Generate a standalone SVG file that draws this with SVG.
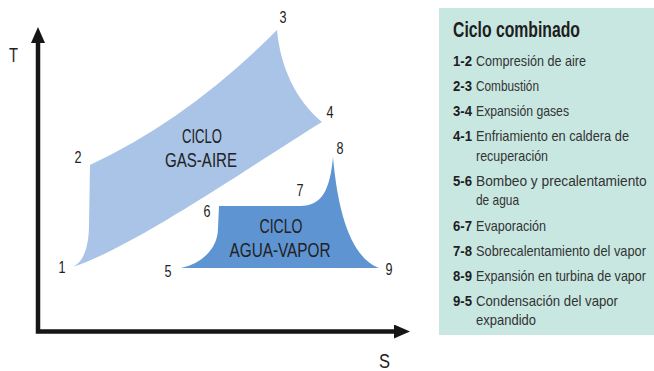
<svg xmlns="http://www.w3.org/2000/svg" width="654" height="371" viewBox="0 0 654 371">
<defs>
<marker id="arr" viewBox="0 0 16 14" refX="0" refY="7" markerWidth="16" markerHeight="14" orient="auto-start-reverse" markerUnits="userSpaceOnUse">
<path d="M0,0 L16,7 L0,14 Z" fill="#161616"/>
</marker>
<style>
.f{font-family:"Liberation Sans",Arial,sans-serif;}
.pt{font-size:16px;fill:#222;text-anchor:middle;}
.cyc{font-size:21px;fill:#222;text-anchor:middle;}
.ttl{font-size:22px;font-weight:bold;fill:#1e1e1e;}
.num{font-size:15px;font-weight:bold;fill:#1e1e1e;}
.dsc{font-size:15px;fill:#333;}
.ax{font-size:21px;fill:#222;}
</style>
</defs>
<rect width="654" height="371" fill="#ffffff"/>

<g id="axes">
<path d="M38,43 L38,331.5 L394,331.5" fill="none" stroke="#161616" stroke-width="4.5" stroke-linejoin="miter" marker-start="url(#arr)" marker-end="url(#arr)"/>
<text class="f ax" x="9" y="62" textLength="9" lengthAdjust="spacingAndGlyphs">T</text>
<text class="f ax" x="379" y="368" textLength="11" lengthAdjust="spacingAndGlyphs">S</text>
</g>

<g id="gas-aire">
<path d="M72,267 C84,263 89,245 89,225 L90,165 Q190,118 277,30 C280,65 295,100 322,122 C260,160 130,250 72,267 Z" fill="#a9c4e6"/>
<text class="f cyc" x="202" y="143" textLength="40" lengthAdjust="spacingAndGlyphs">CICLO</text>
<text class="f cyc" x="201" y="167" textLength="72" lengthAdjust="spacingAndGlyphs">GAS-AIRE</text>
</g>

<g id="agua-vapor">
<path d="M181,268 C200,264 218,250 218,228 L219,206 L300,206 C322,206 330,190 333,157 C338,215 352,258 379,268 Z" fill="#5e94d2"/>
<text class="f cyc" x="281" y="233" textLength="43" lengthAdjust="spacingAndGlyphs">CICLO</text>
<text class="f cyc" x="280" y="257" textLength="101" lengthAdjust="spacingAndGlyphs">AGUA-VAPOR</text>
</g>

<g id="points">
<text class="f pt" x="62" y="273" textLength="7" lengthAdjust="spacingAndGlyphs">1</text>
<text class="f pt" x="78" y="163" textLength="7" lengthAdjust="spacingAndGlyphs">2</text>
<text class="f pt" x="283" y="23" textLength="7" lengthAdjust="spacingAndGlyphs">3</text>
<text class="f pt" x="330" y="118" textLength="7" lengthAdjust="spacingAndGlyphs">4</text>
<text class="f pt" x="168" y="277" textLength="7" lengthAdjust="spacingAndGlyphs">5</text>
<text class="f pt" x="207" y="217" textLength="7" lengthAdjust="spacingAndGlyphs">6</text>
<text class="f pt" x="300" y="196" textLength="7" lengthAdjust="spacingAndGlyphs">7</text>
<text class="f pt" x="340" y="154" textLength="7" lengthAdjust="spacingAndGlyphs">8</text>
<text class="f pt" x="389" y="275" textLength="7" lengthAdjust="spacingAndGlyphs">9</text>
</g>

<g id="legend">
<rect x="439" y="8" width="215" height="327" fill="#c8e7e1"/>
<text class="f ttl" x="453" y="37" textLength="127" lengthAdjust="spacingAndGlyphs">Ciclo combinado</text>
<text class="f num" x="453" y="66" textLength="19" lengthAdjust="spacingAndGlyphs">1-2</text>
<text class="f dsc" x="476" y="66" textLength="110" lengthAdjust="spacingAndGlyphs">Compresión de aire</text>
<text class="f num" x="453" y="91" textLength="19" lengthAdjust="spacingAndGlyphs">2-3</text>
<text class="f dsc" x="476" y="91" textLength="63" lengthAdjust="spacingAndGlyphs">Combustión</text>
<text class="f num" x="453" y="116" textLength="19" lengthAdjust="spacingAndGlyphs">3-4</text>
<text class="f dsc" x="476" y="116" textLength="93" lengthAdjust="spacingAndGlyphs">Expansión gases</text>
<text class="f num" x="453" y="141" textLength="19" lengthAdjust="spacingAndGlyphs">4-1</text>
<text class="f dsc" x="476" y="141" textLength="153" lengthAdjust="spacingAndGlyphs">Enfriamiento en caldera de</text>
<text class="f dsc" x="476" y="161" textLength="72" lengthAdjust="spacingAndGlyphs">recuperación</text>
<text class="f num" x="453" y="186" textLength="19" lengthAdjust="spacingAndGlyphs">5-6</text>
<text class="f dsc" transform="translate(476,186) scale(0.915,1)">Bombeo y precalentamiento</text>
<text class="f dsc" x="476" y="205" textLength="43" lengthAdjust="spacingAndGlyphs">de agua</text>
<text class="f num" x="453" y="231" textLength="19" lengthAdjust="spacingAndGlyphs">6-7</text>
<text class="f dsc" x="476" y="231" textLength="70" lengthAdjust="spacingAndGlyphs">Evaporación</text>
<text class="f num" x="453" y="256" textLength="19" lengthAdjust="spacingAndGlyphs">7-8</text>
<text class="f dsc" transform="translate(476,256) scale(0.853,1)">Sobrecalentamiento del vapor</text>
<text class="f num" x="453" y="281" textLength="19" lengthAdjust="spacingAndGlyphs">8-9</text>
<text class="f dsc" transform="translate(476,281) scale(0.836,1)">Expansión en turbina de vapor</text>
<text class="f num" x="453" y="306" textLength="19" lengthAdjust="spacingAndGlyphs">9-5</text>
<text class="f dsc" x="476" y="306" textLength="142" lengthAdjust="spacingAndGlyphs">Condensación del vapor</text>
<text class="f dsc" x="476" y="325" textLength="60" lengthAdjust="spacingAndGlyphs">expandido</text>
</g>
</svg>
